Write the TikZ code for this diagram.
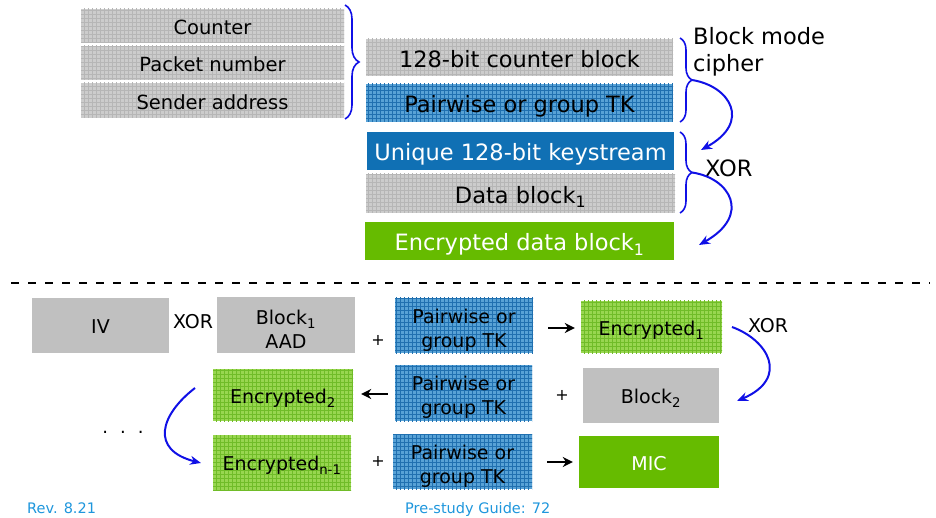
\documentclass[tikz,border=0pt]{standalone}
\usepackage{fontspec}
\setmainfont{DejaVu Sans}
\usetikzlibrary{patterns,decorations.pathreplacing,arrows.meta}
\pgfdeclarepatternformonly{fgrid}{\pgfqpoint{-1pt}{-1pt}}{\pgfqpoint{5pt}{5pt}}{\pgfqpoint{4pt}{4pt}}{%
  \pgfsetlinewidth{0.7pt}%
  \pgfpathmoveto{\pgfqpoint{0pt}{0pt}}\pgfpathlineto{\pgfqpoint{0pt}{4.1pt}}%
  \pgfpathmoveto{\pgfqpoint{0pt}{0pt}}\pgfpathlineto{\pgfqpoint{4.1pt}{0pt}}%
  \pgfusepath{stroke}}
\definecolor{gbase}{RGB}{204,204,204}
\definecolor{glines}{RGB}{182,182,182}
\definecolor{bbase}{RGB}{88,162,214}
\definecolor{blines}{RGB}{32,112,176}
\definecolor{grbase}{RGB}{152,214,80}
\definecolor{grlines}{RGB}{112,188,40}
\definecolor{solidblue}{RGB}{16,112,180}
\definecolor{solidgreen}{RGB}{102,187,0}
\definecolor{solidgray}{RGB}{192,192,192}
\definecolor{footblue}{RGB}{30,150,220}
\definecolor{arrblue}{RGB}{16,16,230}
\begin{document}
\begin{tikzpicture}[x=1pt,y=-1pt,
  box/.style={draw=none, inner sep=0pt, align=center},
  gpat/.style={box, fill=gbase, postaction={pattern=fgrid, pattern color=glines}},
  bpat/.style={box, fill=bbase, postaction={pattern=fgrid, pattern color=blines}},
  grpat/.style={box, fill=grbase, postaction={pattern=fgrid, pattern color=grlines}},
  sgray/.style={box, fill=solidgray},
  sblue/.style={box, fill=solidblue, text=white},
  sgreen/.style={box, fill=solidgreen, text=white},
  lefttxt/.style={font=\fontsize{19.5}{23}\selectfont, text height=21.7pt, text depth=4.5pt},
  righttxt/.style={font=\fontsize{22.5}{27}\selectfont, text height=24.4pt, text depth=5pt},
  lowtxt/.style={font=\fontsize{19}{24}\selectfont, text height=21.4pt, text depth=4.5pt},
  lowml/.style={font=\fontsize{19}{24}\selectfont, align=center, inner sep=0pt},
  bracestyle/.style={draw=arrblue, line width=1.6pt, decorate},
  curvearrow/.style={draw=arrblue, line width=2pt, -{Stealth[length=11pt,width=9pt]}},
  blackarrow/.style={draw=black, line width=2.4pt, -{Stealth[length=10pt,width=10pt]}},
  plus/.style={font=\fontsize{16}{18}\selectfont},
  lbl/.style={inner sep=0pt}
]
\useasboundingbox (0,0) rectangle (936,518);

% ---------- top section ----------
\node[gpat, lefttxt, minimum width=263, minimum height=34] (ctr) at (212.5,26) {Counter};
\node[gpat, lefttxt, minimum width=263, minimum height=34] (pkt) at (212.5,63) {Packet number};
\node[gpat, lefttxt, minimum width=263, minimum height=35] (snd) at (212.5,100.5) {Sender address};

\node[gpat, righttxt, minimum width=307, minimum height=37] (cblk) at (519.5,57.5) {128-bit counter block};
\node[bpat, righttxt, minimum width=307, minimum height=38] (tk0) at (519.5,103) {Pairwise or group TK};
\node[sblue, righttxt, minimum width=307, minimum height=38] (ks) at (520.5,151) {Unique 128-bit keystream};
\node[gpat, righttxt, minimum width=309, minimum height=39] (db) at (520.5,193.5) {Data block\textsubscript{1}};
\node[sgreen, righttxt, minimum width=309, minimum height=38] (edb) at (519.5,241) {Encrypted data block\textsubscript{1}};

% braces
\draw[bracestyle, decoration={brace, amplitude=14pt}] (345,5) -- (345,119);
\draw[bracestyle, decoration={brace, amplitude=12pt}] (680,38) -- (680,122);
\draw[bracestyle, decoration={brace, amplitude=12pt}] (680,132) -- (680,213);
\coordinate (tipA) at (692,80);
\coordinate (tipB) at (692,172.5);
\coordinate (endA) at (701,150);
\coordinate (endB) at (699,245);

\node[lbl, anchor=west, align=left, font=\fontsize{22.5}{27}\selectfont] (bmc) at (693,52) {Block mode\\cipher};
\node[lbl, anchor=west, font=\fontsize{22.5}{27}\selectfont] (xor1) at (705,168) {XOR};

\draw[curvearrow] (tipA) .. controls (730,86) and (752,122) .. (endA);
\draw[curvearrow] (tipB) .. controls (730,178) and (752,215) .. (endB);

% dashed separator
\coordinate (dl) at (11,283);
\coordinate (dr) at (930,283);
\draw[line width=2.6pt, dash pattern=on 8pt off 9pt] (dl) -- (dr);

% ---------- bottom section ----------
\node[sgray, lowtxt, minimum width=137, minimum height=55] (iv) at (100.5,325.5) {IV};
\node[lbl, font=\fontsize{19}{24}\selectfont] (xor2) at (193,322) {XOR};
\node[sgray, minimum width=138, minimum height=56] (b1) at (286,325) {};
\node[lowml] (b1t) at ([yshift=-4.5pt]b1.center) {Block\textsubscript{1}\\AAD};
\node[plus] (pl1) at (378,340) {+};
\node[bpat, minimum width=138, minimum height=55] (p1) at (464,325.5) {};
\node[lowml] (p1t) at ([yshift=-4.5pt]p1.center) {Pairwise or\\group TK};
\node[grpat, lowtxt, minimum width=141, minimum height=52] (e1) at (651.5,327) {Encrypted\textsubscript{1}};
\node[lbl, font=\fontsize{19}{24}\selectfont] (xor3) at (768,326) {XOR};

\node[grpat, lowtxt, minimum width=140, minimum height=52] (e2) at (283,395) {Encrypted\textsubscript{2}};
\node[bpat, minimum width=137, minimum height=56] (p2) at (463.5,393) {};
\node[lowml] (p2t) at ([yshift=-4.5pt]p2.center) {Pairwise or\\group TK};
\node[plus] (pl2) at (562,395) {+};
\node[sgray, lowtxt, minimum width=136, minimum height=55] (b2) at (651,395.5) {Block\textsubscript{2}};

\node[lbl, font=\fontsize{18}{20}\selectfont] (dots) at (123,432) {.\hspace{12pt}.\hspace{12pt}.};
\node[grpat, lowtxt, minimum width=138, minimum height=55] (en) at (282,462.5) {Encrypted\textsubscript{n-1}};
\node[plus] (pl3) at (378,461) {+};
\node[bpat, minimum width=139, minimum height=55] (p3) at (462.5,461.5) {};
\node[lowml] (p3t) at ([yshift=-4.5pt]p3.center) {Pairwise or\\group TK};
\node[sgreen, lowtxt, minimum width=140, minimum height=52] (mic) at (649,462) {MIC};

% black arrows
\draw[blackarrow] ([xshift=15pt]p1.east |- 0,328) -- ([xshift=-6pt]e1.west |- 0,328);
\draw[blackarrow] ([xshift=-7pt]p2.west |- 0,394) -- ([xshift=8pt]e2.east |- 0,394);
\draw[blackarrow] ([xshift=15pt]p3.east |- 0,462) -- ([xshift=-6pt]mic.west |- 0,462);

% blue curved arrows (bottom)
\coordinate (s3) at (732,327);
\coordinate (t3) at (737,401);
\coordinate (s4) at (195,388);
\coordinate (t4) at (201,463);
\draw[curvearrow] (s3) .. controls (768,340) and (790,378) .. (t3);
\draw[curvearrow] (s4) .. controls (160,415) and (150,450) .. (t4);

% footer
\node[lbl, text=footblue, font=\fontsize{14.5}{16}\selectfont, anchor=base west] (rev) at (27,513) {Rev. 8.21};
\node[lbl, text=footblue, font=\fontsize{14.5}{16}\selectfont, anchor=base west] (psg) at (405,513) {Pre-study Guide: 72};
\end{tikzpicture}
\end{document}
